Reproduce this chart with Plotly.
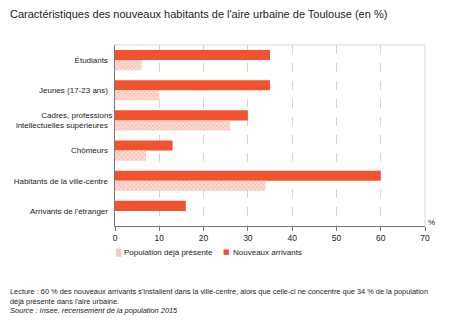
import plotly.graph_objects as go

categories = ["Étudiants", "Jeunes (17-23 ans)", "Cadres, professions<br>intellectuelles supérieures",
              "Chômeurs", "Habitants de la ville-centre", "Arrivants de l'étranger"]
nouveaux = [35, 35, 30, 13, 60, 16]
population = [6, 10, 26, 7, 34, 0]
x_ticks = [0, 10, 20, 30, 40, 50, 60, 70]

FONT = "Liberation Sans, Arial, Helvetica, sans-serif"
RED = "#f2532f"
HATCH = "#f09a84"
HATCH_BG = "#fbe3dc"

L, R, T, B = 115, 35, 45, 100
PW, PH = 460 - L - R, 326 - T - B


def px(x):
    return (x - L) / PW


def py(y):
    return (326 - B - y) / PH


fig = go.Figure()
fig.add_trace(go.Bar(
    y=categories, x=nouveaux, orientation="h", name="Nouveaux arrivants",
    marker=dict(color=RED, line=dict(width=0)), showlegend=False,
))
fig.add_trace(go.Bar(
    y=categories, x=population, orientation="h", name="Population déjà présente",
    marker=dict(color=HATCH_BG, line=dict(width=0),
                pattern=dict(shape="x", fgcolor=HATCH, bgcolor=HATCH_BG, size=3, solidity=0.5)),
    showlegend=False,
))

fig.update_layout(
    width=460, height=326,
    margin=dict(l=L, r=R, t=T, b=B),
    paper_bgcolor="white", plot_bgcolor="white",
    barmode="group", bargap=0.33, bargroupgap=0,
    font=dict(family=FONT, size=8, color="#222"),
    title=dict(text="Caractéristiques des nouveaux habitants de l'aire urbaine de Toulouse (en %)",
               x=10 / 460, xanchor="left", xref="container", y=1 - 14 / 326, yanchor="middle",
               yref="container", font=dict(family=FONT, size=11, color="#222")),
    xaxis=dict(range=[0, 70], tickvals=x_ticks, showgrid=True, gridcolor="#c9d6df",
               griddash="dash", gridwidth=1, showline=True, linecolor="#777", linewidth=1,
               ticks="outside", ticklen=4, tickcolor="#777", zeroline=False,
               tickfont=dict(size=8.5, color="#222")),
    yaxis=dict(categoryorder="array", categoryarray=categories, autorange="reversed",
               showline=True, linecolor="#777", linewidth=1, ticks="", showgrid=False,
               tickfont=dict(size=8, color="#222"), ticksuffix="  "),
    showlegend=False,
)

fig.add_shape(type="line", xref="paper", yref="paper", x0=0, x1=1, y0=1, y1=1,
              line=dict(color="#cfdde6", width=1))
fig.add_shape(type="line", xref="paper", yref="paper", x0=1, x1=1, y0=0, y1=1,
              line=dict(color="#cfdde6", width=1))

fig.add_annotation(text="%", xref="paper", yref="paper", x=px(431), y=py(222), xanchor="center",
                   yanchor="middle", showarrow=False, font=dict(size=8, color="#222"))

# manual legend
legend_items = [
    ("▒", HATCH, "Population déjà présente", 119, 122),
    ("■", RED, "Nouveaux arrivants", 226.5, 231),
]
for sym, col, label, sx, tx in legend_items:
    fig.add_annotation(text=sym, xref="paper", yref="paper", x=px(sx), y=py(252),
                       xanchor="center", yanchor="middle", showarrow=False,
                       font=dict(family="DejaVu Sans", size=7, color=col))
    fig.add_annotation(text=label, xref="paper", yref="paper", x=px(tx), y=py(252),
                       xanchor="left", yanchor="middle", showarrow=False,
                       font=dict(size=8, color="#222"))

fig.add_annotation(
    text=("Lecture : 60 % des nouveaux arrivants s'installent dans la ville-centre, alors que celle-ci ne concentre que 34 % de la population"
          "<br>déjà présente dans l'aire urbaine.<br><i>Source : Insee, recensement de la population 2015</i>"),
    xref="paper", yref="paper", x=px(8), y=py(285),
    xanchor="left", yanchor="top", align="left", showarrow=False,
    font=dict(family="Liberation Sans Narrow, Arial Narrow, " + FONT, size=7.4, color="#222"),
)

fig.write_html("out.html")
